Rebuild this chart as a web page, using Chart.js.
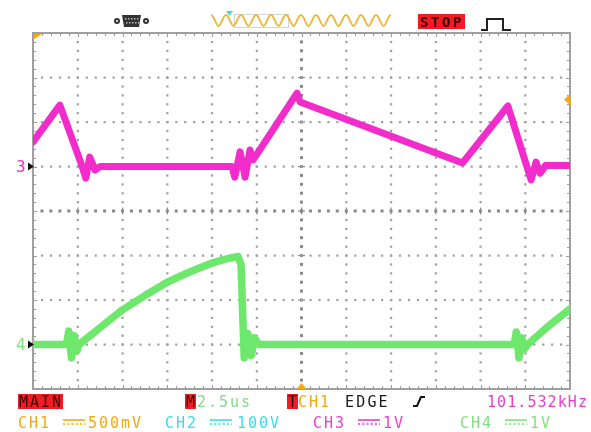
<!DOCTYPE html>
<html>
<head>
<meta charset="utf-8">
<script src="https://cdn.jsdelivr.net/npm/chart.js@4.4.1/dist/chart.umd.min.js"></script>
<style>
  html, body { margin: 0; padding: 0; background: #ffffff; }
  canvas { display: block; }
</style>
</head>
<body>
<canvas id="c" width="591" height="432"></canvas>
<script>
// ---------- DATA ----------
// time in microseconds (2.5 us/div, 12 divisions, trigger at centre)
const TIME_MIN = -15, TIME_MAX = 15, TIME_PER_DIV = 2.5;
const VOLT_MIN = -4, VOLT_MAX = 4;            // screen in divisions (1 V/div)
const CH3_OFFSET = 1;                          // channel 3 ground marker (div)
const CH4_OFFSET = -3;                         // channel 4 ground marker (div)

// CH3 (magenta) : time (us) / volts
const ch3Time = [-15, -13.5, -12.28, -12.05, -11.83, -11.53, -11.25, -3.88, -3.73, -3.43, -3.15, -2.88, -2.7, -0.25, -0.08, 9.0, 11.53, 12.65, 12.83, 13.1, 13.33, 13.63, 15];
const ch3Volt = [0.55, 1.38, 0.03, -0.26, 0.21, -0.08, 0.0, 0.0, -0.24, 0.33, -0.24, 0.37, 0.15, 1.65, 1.45, 0.08, 1.36, -0.08, -0.3, 0.1, -0.15, 0.02, 0.02];

// CH4 (green) : time (us) / volts
const ch4Time = [-15, -13.13, -13.0, -12.85, -12.7, -12.55, -12.43, -11.25, -10, -8.75, -7.5, -6.25, -5, -4.25, -3.55, -3.38, -3.2, -3.0, -2.8, -2.63, -2.38, 11.88, 12.0, 12.15, 12.3, 12.45, 12.63, 13.75, 15];
const ch4Volt = [0, 0, 0.3, -0.3, 0.2, -0.15, 0, 0.38, 0.78, 1.1, 1.4, 1.63, 1.83, 1.92, 1.98, 1.8, -0.3, 0.25, -0.25, 0.15, 0, 0, 0.28, -0.3, 0.15, -0.1, 0, 0.4, 0.8];

// status texts
const statusMode = "MAIN";
const timebase = "2.5us";
const trigSource = "CH1";
const trigType = "EDGE";
const frequency = "101.532kHz";
const runState = "STOP";
const chNames = ["CH1", "CH2", "CH3", "CH4"];
const chScales = ["500mV", "100V", "1V", "1V"];
const markerLabels = ["3", "4"];

// ---------- STYLE ----------
const C_MAG = '#f22ccb';
const C_GRN = '#6de86d';
const C_ORG = '#f5a90a';
const C_CYN = '#2fe0f2';
const C_RED = '#f01c24';
const C_GRID = '#a0a0a0';
const chColors = [C_ORG, C_CYN, '#f23ad2', '#7ee37e'];
const MONO = '"DejaVu Sans Mono", "Liberation Mono", monospace';

function toPts(xs, ys, off) { return xs.map((x, i) => ({ x: x, y: ys[i] + off })); }

function monoText(ctx, s, x, y, adv, color) {
  ctx.fillStyle = color;
  for (let i = 0; i < s.length; i++) ctx.fillText(s[i], x + i * adv, y);
}

function dcSymbol(ctx, x, y, w, color) {
  ctx.save();
  ctx.strokeStyle = color; ctx.lineWidth = 1.6;
  ctx.beginPath(); ctx.moveTo(x, y); ctx.lineTo(x + w, y); ctx.stroke();
  ctx.setLineDash([2.2, 2]);
  ctx.beginPath(); ctx.moveTo(x, y + 4); ctx.lineTo(x + w, y + 4); ctx.stroke();
  ctx.restore();
}

const scopePlugin = {
  id: 'scope',
  beforeDatasetsDraw(chart) {
    const { ctx, chartArea: a, scales: { x, y } } = chart;
    ctx.save();
    const nX = Math.round((TIME_MAX - TIME_MIN) / TIME_PER_DIV);
    const nY = VOLT_MAX - VOLT_MIN;
    for (let i = 1; i < nX; i++) {
      const px = x.getPixelForValue(TIME_MIN + i * TIME_PER_DIV);
      const centre = (i === nX / 2);
      for (let j = 1; j < nY * 5; j++) {
        const py = y.getPixelForValue(VOLT_MIN + j * 0.2);
        if (centre) { ctx.fillStyle = '#8a8a8a'; ctx.fillRect(px - 1.5, py - 1.5, 3, 3); if (j % 5 === 0) ctx.fillRect(px - 3.5, py - 0.5, 7, 1.2); }
        else { ctx.fillStyle = C_GRID; ctx.fillRect(px - 1, py - 1, 2.2, 2.2); }
      }
    }
    for (let j = 1; j < nY; j++) {
      const py = y.getPixelForValue(VOLT_MIN + j);
      const centre = (j === nY / 2);
      for (let i = 1; i < nX * 5; i++) {
        const px = x.getPixelForValue(TIME_MIN + i * TIME_PER_DIV / 5);
        if (centre) { ctx.fillStyle = '#8a8a8a'; ctx.fillRect(px - 1.5, py - 1.5, 3, 3); if (i % 5 === 0) ctx.fillRect(px - 0.5, py - 3.5, 1.2, 7); }
        else { ctx.fillStyle = C_GRID; ctx.fillRect(px - 1, py - 1, 2.2, 2.2); }
      }
    }
    ctx.strokeStyle = '#a0a0a0'; ctx.lineWidth = 2;
    ctx.strokeRect(a.left, a.top, a.right - a.left, a.bottom - a.top);
    ctx.lineWidth = 1; ctx.strokeStyle = '#9a9a9a';
    ctx.beginPath();
    for (let i = 1; i < nX * 5; i++) {
      const px = Math.round(x.getPixelForValue(TIME_MIN + i * TIME_PER_DIV / 5)) + 0.5;
      const L = (i % 5 === 0) ? 4 : 3;
      ctx.moveTo(px, a.top); ctx.lineTo(px, a.top + L);
      ctx.moveTo(px, a.bottom); ctx.lineTo(px, a.bottom - L);
    }
    for (let j = 1; j < nY * 5; j++) {
      const py = Math.round(y.getPixelForValue(VOLT_MIN + j * 0.2)) + 0.5;
      const L = (j % 5 === 0) ? 4 : 3;
      ctx.moveTo(a.left, py); ctx.lineTo(a.left + L, py);
      ctx.moveTo(a.right, py); ctx.lineTo(a.right - L, py);
    }
    ctx.stroke();
    ctx.restore();
  },
  afterDraw(chart) {
    const { ctx, chartArea: a, scales: { x, y } } = chart;
    ctx.save();
    ctx.fillStyle = C_ORG;
    ctx.beginPath(); ctx.moveTo(a.left + 1, a.top + 1); ctx.lineTo(a.left + 9, a.top + 1); ctx.lineTo(a.left + 1, a.top + 6); ctx.closePath(); ctx.fill();
    const tx = x.getPixelForValue(0);
    ctx.beginPath(); ctx.moveTo(tx, a.bottom - 6); ctx.lineTo(tx + 5, a.bottom); ctx.lineTo(tx - 5, a.bottom); ctx.closePath(); ctx.fill();
    const ty = y.getPixelForValue(2.5);
    ctx.beginPath(); ctx.moveTo(a.right - 6, ty); ctx.lineTo(a.right, ty - 6); ctx.lineTo(a.right + 1, ty + 6); ctx.closePath(); ctx.fill();

    const offs = [CH3_OFFSET, CH4_OFFSET];
    const mcol = [C_MAG, '#7ee37e'];
    ctx.font = '16px ' + MONO; ctx.textBaseline = 'middle';
    for (let k = 0; k < 2; k++) {
      const py = y.getPixelForValue(offs[k]);
      ctx.fillStyle = mcol[k];
      ctx.fillText(markerLabels[k], a.left - 17, py + 1);
      ctx.fillStyle = '#111';
      ctx.beginPath(); ctx.moveTo(a.left - 5, py - 4); ctx.lineTo(a.left + 1, py); ctx.lineTo(a.left - 5, py + 4); ctx.closePath(); ctx.fill();
    }

    // ---- top bar ----
    ctx.fillStyle = '#333';
    ctx.beginPath(); ctx.arc(117, 21, 3, 0, Math.PI * 2); ctx.fill();
    ctx.beginPath(); ctx.arc(146, 21, 3, 0, Math.PI * 2); ctx.fill();
    ctx.beginPath(); ctx.moveTo(122, 15); ctx.lineTo(141, 15); ctx.lineTo(139, 27); ctx.lineTo(124, 27); ctx.closePath(); ctx.fill();
    ctx.fillStyle = '#bbb';
    for (let r = 0; r < 2; r++) for (let c = 0; c < 5; c++) ctx.fillRect(125 + c * 3 + r, 18 + r * 4, 1.5, 1.5);
    ctx.fillStyle = '#fff'; ctx.beginPath(); ctx.arc(117, 21, 1, 0, 7); ctx.fill(); ctx.beginPath(); ctx.arc(146, 21, 1, 0, 7); ctx.fill();

    ctx.strokeStyle = '#d4d4d4'; ctx.lineWidth = 1;
    ctx.strokeRect(234.5, 14.5, 54, 13);
    ctx.strokeStyle = '#f2b53a'; ctx.lineWidth = 1.8;
    ctx.beginPath();
    for (let k = 0; k < 12; k++) {
      const x0 = 211 + k * 15;
      if (k === 0) ctx.moveTo(x0, 15);
      ctx.bezierCurveTo(x0 + 3, 15, x0 + 5, 26, x0 + 7.5, 26);
      ctx.bezierCurveTo(x0 + 10, 26, x0 + 12, 15, x0 + 15, 15);
    }
    ctx.stroke();
    ctx.fillStyle = C_CYN;
    ctx.beginPath(); ctx.moveTo(226, 11); ctx.lineTo(233, 11); ctx.lineTo(229.5, 16); ctx.closePath(); ctx.fill();

    ctx.fillStyle = C_RED; ctx.fillRect(418, 14, 47, 15);
    ctx.font = 'bold 14px ' + MONO; ctx.textBaseline = 'alphabetic';
    monoText(ctx, runState, 420, 27, 11, '#3a0000');
    ctx.strokeStyle = '#222'; ctx.lineWidth = 2;
    ctx.beginPath(); ctx.moveTo(481, 30); ctx.lineTo(487, 30); ctx.lineTo(487, 19); ctx.lineTo(503, 19); ctx.lineTo(503, 30); ctx.lineTo(511, 30); ctx.stroke();

    // ---- bottom status rows ----
    ctx.font = '15px ' + MONO;
    ctx.fillStyle = C_RED; ctx.fillRect(18, 394, 45, 15);
    monoText(ctx, statusMode, 19, 407, 11, '#3a0000');
    ctx.fillStyle = C_RED; ctx.fillRect(185, 394, 11, 15);
    monoText(ctx, "M", 186, 407, 11, '#3a0000');
    monoText(ctx, timebase, 197, 407, 11, '#86dc86');
    ctx.fillStyle = C_RED; ctx.fillRect(287, 394, 11, 15);
    monoText(ctx, "T", 288, 407, 11, '#3a0000');
    monoText(ctx, trigSource, 298, 407, 11, C_ORG);
    monoText(ctx, trigType, 345, 407, 11.2, '#1a1a1a');
    ctx.strokeStyle = '#111'; ctx.lineWidth = 2;
    ctx.beginPath(); ctx.moveTo(413, 406); ctx.lineTo(417, 406); ctx.lineTo(421, 397); ctx.lineTo(425, 397); ctx.stroke();
    monoText(ctx, frequency, 487, 407, 10.1, '#ee3ad0');

    const chX = [18, 165, 313, 460];
    const symX = [63, 210, 358, 505];
    const valX = [88, 237, 383, 530];
    for (let k = 0; k < 4; k++) {
      monoText(ctx, chNames[k], chX[k], 428, 11, chColors[k]);
      dcSymbol(ctx, symX[k], 420, 22, chColors[k]);
      monoText(ctx, chScales[k], valX[k], 428, 11, chColors[k]);
    }
    ctx.restore();
  }
};

new Chart(document.getElementById('c'), {
  type: 'scatter',
  data: {
    datasets: [
      { label: 'CH4', data: toPts(ch4Time, ch4Volt, CH4_OFFSET), showLine: true, borderColor: C_GRN, borderWidth: 7.5, pointRadius: 0, borderJoinStyle: 'round', borderCapStyle: 'round', tension: 0 },
      { label: 'CH3', data: toPts(ch3Time, ch3Volt, CH3_OFFSET), showLine: true, borderColor: C_MAG, borderWidth: 7, pointRadius: 0, borderJoinStyle: 'round', borderCapStyle: 'round', tension: 0 }
    ]
  },
  options: {
    responsive: false,
    animation: false,
    devicePixelRatio: 1,
    layout: { padding: { left: 33, right: 21, top: 33, bottom: 43 } },
    plugins: { legend: { display: false }, tooltip: { enabled: false } },
    scales: {
      x: { type: 'linear', min: TIME_MIN, max: TIME_MAX, display: false },
      y: { type: 'linear', min: VOLT_MIN, max: VOLT_MAX, display: false }
    }
  },
  plugins: [scopePlugin]
});
</script>
</body>
</html>
